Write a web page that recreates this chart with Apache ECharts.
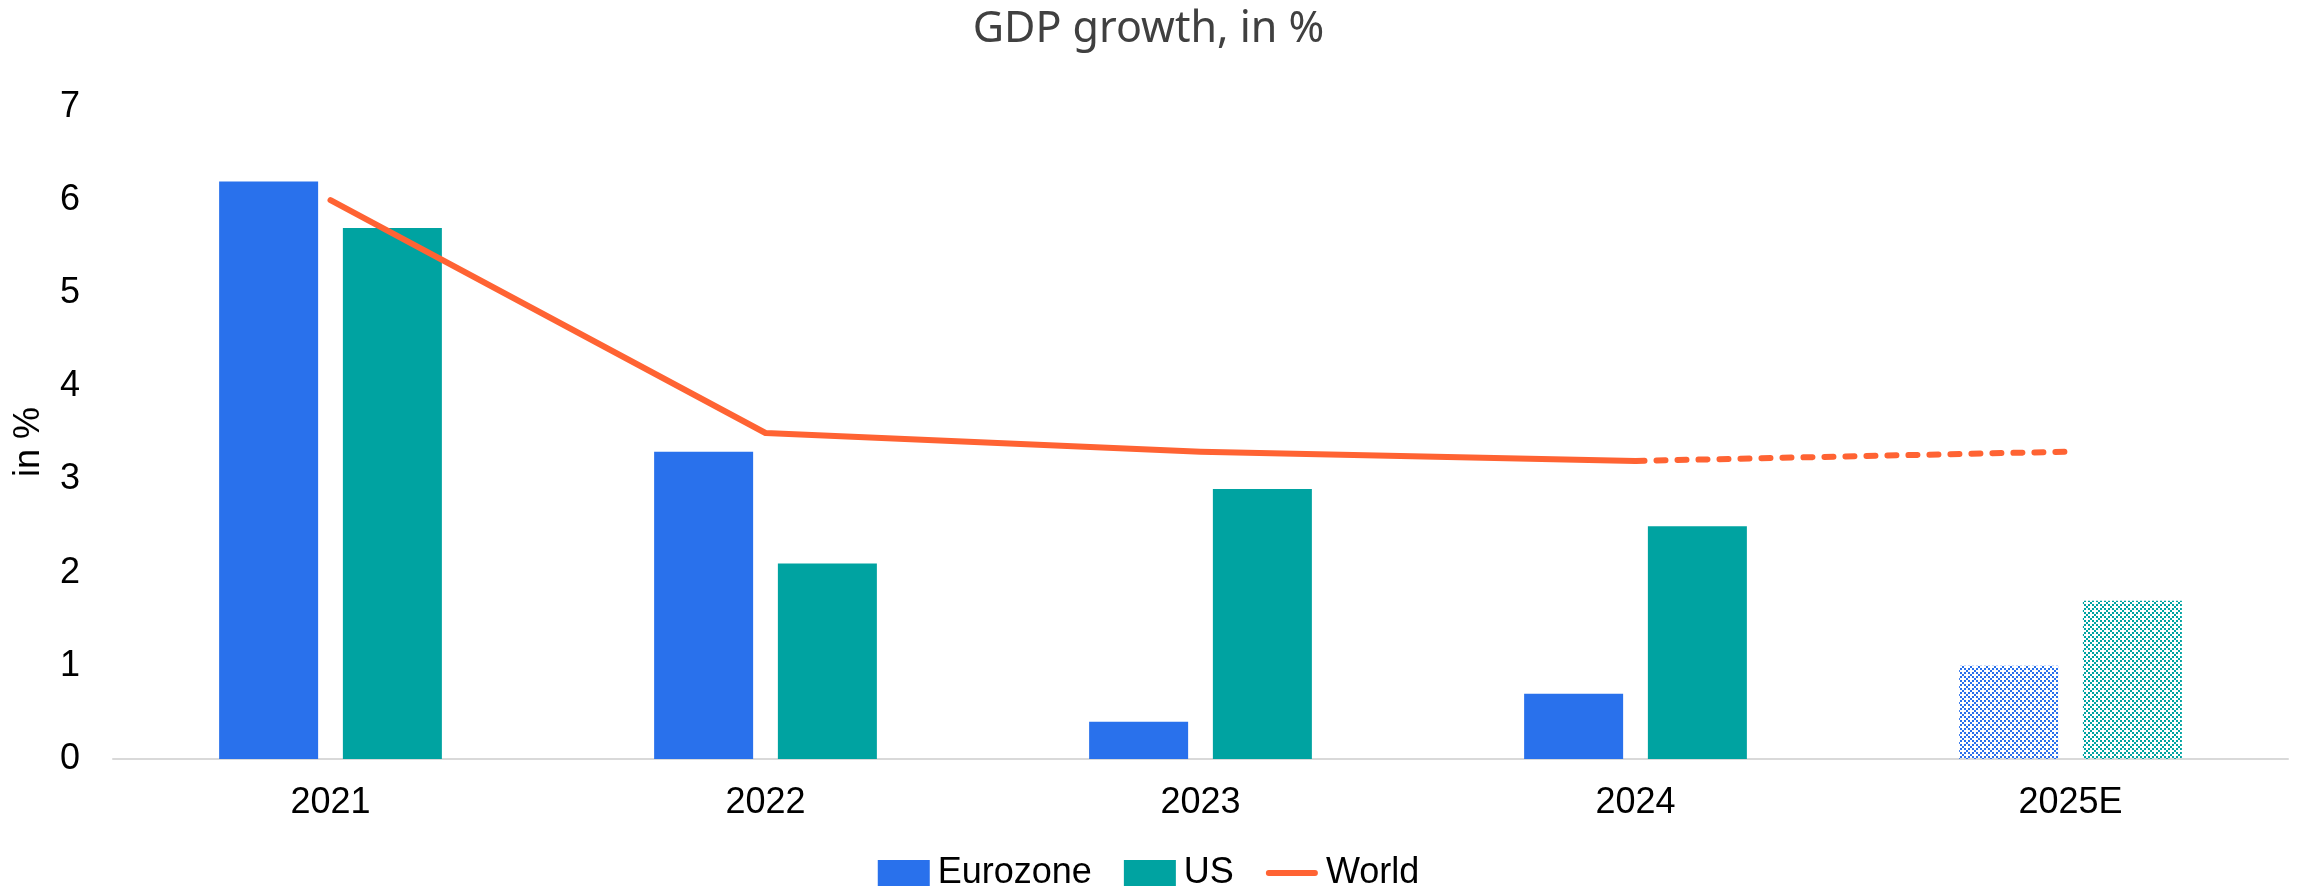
<!DOCTYPE html>
<html>
<head>
<meta charset="utf-8">
<title>GDP growth, in %</title>
<script src="https://cdn.jsdelivr.net/npm/echarts@6/dist/echarts.min.js"></script>
<style>
  html, body { margin: 0; padding: 0; background: #ffffff; }
  #chart { width: 2297px; height: 889px; }
</style>
</head>
<body>
<div id="chart"></div>
<script>
// GDP growth by region, in %
const categories = ['2021', '2022', '2023', '2024', '2025E'];
const eurozone = [6.2, 3.3, 0.4, 0.7, 1.0];
const us = [5.7, 2.1, 2.9, 2.5, 1.7];
const worldActual = [6.0, 3.5, 3.3, 3.2, null];
const worldForecast = [null, null, null, 3.2, 3.3];
const yTicks = [0, 1, 2, 3, 4, 5, 6, 7];
const forecastIndex = 4; // 2025E is an estimate

const BLUE = '#2971EC';
const TEAL = '#00A3A1';
const ORANGE = '#FF6333';
const FONT = '"Liberation Sans", Arial, sans-serif';

// small dotted tile used to fill the estimate bars
function makePattern(color) {
  const c = document.createElement('canvas');
  c.width = 8; c.height = 8;
  const ctx = c.getContext('2d');
  ctx.fillStyle = color;
  [[0, 0], [4, 0], [2, 2], [0, 4], [4, 4], [6, 6]].forEach(([x, y]) => ctx.fillRect(x, y, 2, 2));
  return { image: c, repeat: 'repeat' };
}

function barData(values, color) {
  return values.map((v, i) => i === forecastIndex
    ? { value: v, itemStyle: { color: makePattern(color) } }
    : v);
}

const chart = echarts.init(document.getElementById('chart'), null, { renderer: 'canvas' });
chart.setOption({
  animation: false,
  backgroundColor: '#ffffff',
  title: {
    text: 'GDP growth, in %',
    left: 'center',
    top: 3,
    textStyle: { fontFamily: '"Noto Sans", sans-serif', fontSize: 43, fontWeight: 'normal', color: '#404040' }
  },
  legend: {
    data: [
      { name: 'Eurozone', icon: 'rect' },
      { name: 'US', icon: 'rect' },
      { name: 'World', icon: 'path://M3,0 L51,0 A3,3 0 0 1 51,6 L3,6 A3,3 0 0 1 3,0 Z' }
    ],
    left: 'center',
    top: 850,
    itemWidth: 52,
    itemHeight: 26,
    itemGap: 32,
    textStyle: { fontFamily: FONT, fontSize: 36, color: '#000000', padding: [0, 0, 0, 3] }
  },
  grid: { left: 113, right: 9, top: 107, bottom: 130, containLabel: false },
  xAxis: {
    type: 'category',
    data: categories,
    axisLine: { lineStyle: { color: '#D9D9D9', width: 2 } },
    axisTick: { show: false },
    axisLabel: { fontFamily: FONT, fontSize: 36, color: '#000000', margin: 26 }
  },
  yAxis: {
    type: 'value',
    min: yTicks[0],
    max: yTicks[yTicks.length - 1],
    interval: 1,
    name: 'in %',
    nameLocation: 'middle',
    nameGap: 66,
    nameTextStyle: { fontFamily: FONT, fontSize: 36, color: '#000000', padding: [0, 18, 0, 0] },
    axisLine: { show: false },
    axisTick: { show: false },
    splitLine: { show: false },
    axisLabel: { fontFamily: FONT, fontSize: 36, color: '#000000', margin: 33 }
  },
  series: [
    {
      name: 'Eurozone',
      type: 'bar',
      data: barData(eurozone, BLUE),
      itemStyle: { color: BLUE },
      barWidth: 99,
      barGap: '25%'
    },
    {
      name: 'US',
      type: 'bar',
      data: barData(us, TEAL),
      itemStyle: { color: TEAL },
      barWidth: 99,
      barGap: '25%'
    },
    {
      name: 'World',
      type: 'line',
      data: worldActual,
      symbol: 'none',
      connectNulls: false,
      lineStyle: { color: ORANGE, width: 6, cap: 'round', join: 'round' },
      itemStyle: { color: ORANGE },
      z: 5
    },
    {
      name: 'World (estimate)',
      type: 'line',
      data: worldForecast,
      symbol: 'none',
      lineStyle: { color: ORANGE, width: 6, type: [9, 12], cap: 'round' },
      itemStyle: { color: ORANGE },
      z: 5
    }
  ]
});
</script>
</body>
</html>
